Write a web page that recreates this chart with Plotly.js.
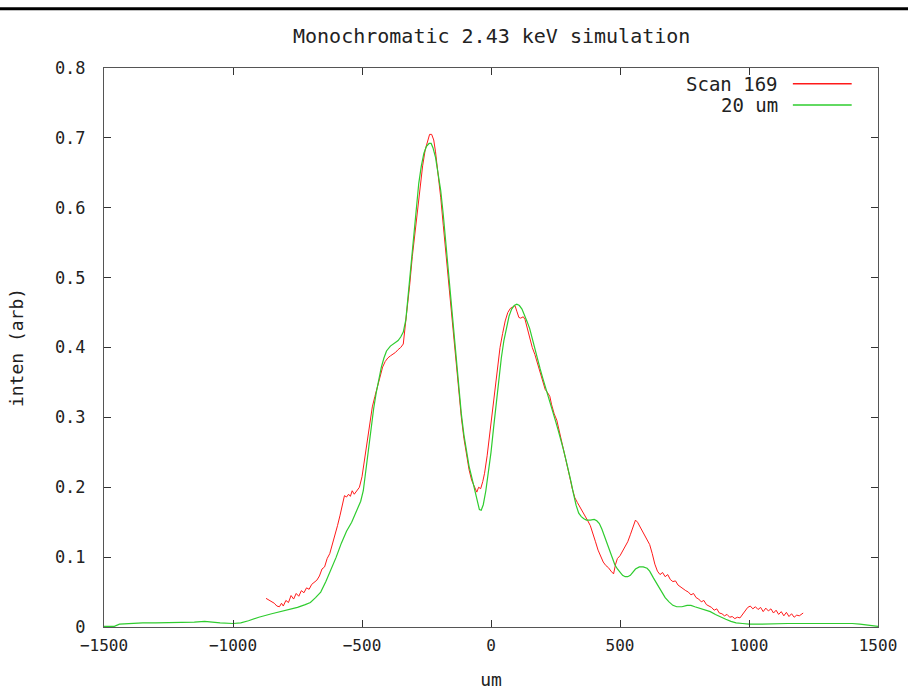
<!DOCTYPE html>
<html>
<head>
<meta charset="utf-8">
<script src="https://cdn.plot.ly/plotly-3.0.1.min.js"></script>
<style>html,body{margin:0;padding:0;background:#fff;}#chart{width:908px;height:690px;}</style>
</head>
<body>
<div id="chart"></div>
<script>
// Scan 169 (measured)
const scanX = [-872,-860,-850,-840,-830,-820,-812,-805,-795,-785,-775,-765,-755,-745,-735,-725,-715,-705,-695,-685,-675,-665,-655,-645,-635,-625,-615,-605,-595,-585,-575,-568,-560,-552,-545,-538,-530,-520,-510,-500,-490,-480,-470,-460,-450,-440,-430,-420,-410,-400,-390,-380,-370,-360,-350,-340,-332,-325,-315,-305,-295,-285,-275,-265,-255,-245,-238,-230,-222,-215,-205,-195,-185,-175,-165,-155,-145,-135,-125,-115,-105,-95,-85,-75,-65,-55,-48,-40,-32,-25,-15,-5,5,15,25,35,45,55,65,75,85,93,100,108,115,125,132,140,150,160,170,180,190,200,210,220,228,235,245,255,265,275,285,295,305,315,325,335,345,355,365,375,385,395,405,415,425,435,445,455,465,475,483,490,500,510,520,530,540,550,560,568,575,585,595,605,615,625,635,645,655,665,675,685,695,705,715,725,735,745,755,765,775,785,795,805,815,825,835,845,855,865,875,885,895,905,915,925,935,945,955,965,975,985,995,1005,1015,1025,1035,1045,1055,1065,1075,1085,1095,1105,1115,1125,1135,1145,1155,1165,1175,1185,1195,1210];
const scanY = [0.041,0.038,0.036,0.034,0.030,0.029,0.034,0.030,0.038,0.035,0.045,0.040,0.048,0.044,0.052,0.049,0.056,0.054,0.061,0.064,0.067,0.073,0.083,0.086,0.098,0.105,0.118,0.130,0.145,0.160,0.175,0.188,0.186,0.190,0.187,0.195,0.190,0.196,0.200,0.215,0.240,0.265,0.290,0.315,0.330,0.345,0.360,0.372,0.380,0.385,0.388,0.390,0.393,0.397,0.400,0.405,0.430,0.460,0.490,0.530,0.565,0.600,0.630,0.660,0.683,0.698,0.705,0.705,0.697,0.680,0.650,0.615,0.575,0.535,0.490,0.450,0.410,0.370,0.335,0.300,0.270,0.245,0.225,0.210,0.200,0.193,0.200,0.198,0.208,0.220,0.245,0.275,0.305,0.335,0.370,0.400,0.420,0.438,0.450,0.456,0.458,0.460,0.452,0.443,0.442,0.444,0.440,0.428,0.415,0.400,0.390,0.378,0.365,0.352,0.340,0.335,0.330,0.318,0.305,0.296,0.280,0.265,0.248,0.235,0.215,0.198,0.185,0.178,0.172,0.165,0.158,0.152,0.145,0.135,0.122,0.110,0.100,0.093,0.088,0.085,0.080,0.076,0.090,0.098,0.102,0.108,0.115,0.122,0.132,0.142,0.153,0.150,0.145,0.140,0.132,0.125,0.118,0.105,0.090,0.080,0.075,0.078,0.072,0.075,0.068,0.065,0.066,0.060,0.057,0.055,0.052,0.050,0.046,0.048,0.042,0.040,0.036,0.038,0.032,0.030,0.028,0.024,0.026,0.020,0.019,0.016,0.018,0.014,0.015,0.012,0.014,0.013,0.018,0.024,0.028,0.030,0.026,0.029,0.025,0.028,0.022,0.027,0.023,0.026,0.020,0.024,0.018,0.022,0.016,0.021,0.015,0.019,0.014,0.017,0.016,0.020];

// 20 um simulation
const simX = [-1500,-1460,-1440,-1400,-1350,-1300,-1250,-1200,-1150,-1110,-1090,-1050,-1000,-970,-940,-900,-850,-800,-750,-720,-700,-680,-660,-640,-620,-600,-580,-560,-540,-520,-505,-495,-485,-475,-465,-455,-445,-435,-425,-415,-405,-390,-375,-360,-350,-340,-330,-320,-310,-300,-290,-280,-270,-260,-250,-240,-232,-225,-215,-205,-195,-185,-175,-165,-155,-145,-135,-125,-115,-105,-95,-85,-75,-65,-55,-45,-38,-30,-20,-10,0,10,20,30,40,50,60,70,80,90,100,110,120,130,140,150,160,170,180,190,200,210,220,230,240,250,260,270,280,290,300,310,320,330,340,350,360,370,385,400,410,420,430,440,450,460,470,480,490,500,510,520,530,540,550,560,575,590,605,615,630,645,660,675,690,705,720,740,760,775,790,810,830,850,870,890,910,930,950,975,1000,1050,1100,1150,1200,1250,1300,1350,1400,1430,1470,1500];
const simY = [0.001,0.001,0.004,0.005,0.006,0.006,0.006,0.006,0.007,0.008,0.007,0.006,0.005,0.006,0.009,0.014,0.019,0.023,0.028,0.032,0.035,0.042,0.050,0.065,0.082,0.100,0.120,0.137,0.150,0.166,0.180,0.195,0.225,0.255,0.285,0.312,0.335,0.355,0.372,0.385,0.395,0.402,0.406,0.410,0.415,0.422,0.440,0.480,0.525,0.565,0.600,0.635,0.660,0.678,0.688,0.692,0.692,0.686,0.672,0.650,0.625,0.590,0.550,0.510,0.470,0.425,0.380,0.340,0.305,0.275,0.250,0.230,0.215,0.198,0.180,0.168,0.167,0.175,0.195,0.220,0.250,0.285,0.320,0.355,0.385,0.410,0.430,0.445,0.455,0.460,0.462,0.460,0.455,0.447,0.437,0.427,0.412,0.397,0.382,0.370,0.357,0.345,0.333,0.322,0.308,0.295,0.282,0.270,0.255,0.240,0.225,0.208,0.190,0.174,0.163,0.158,0.155,0.153,0.153,0.154,0.152,0.148,0.140,0.130,0.120,0.108,0.097,0.089,0.083,0.078,0.074,0.072,0.072,0.074,0.078,0.083,0.086,0.086,0.084,0.080,0.070,0.060,0.050,0.042,0.036,0.031,0.029,0.029,0.031,0.031,0.029,0.027,0.025,0.022,0.018,0.014,0.011,0.008,0.006,0.005,0.004,0.004,0.005,0.005,0.005,0.005,0.006,0.006,0.005,0.004,0.002,0.001];

const seriesNames = ['Scan 169', '20 um'];
const seriesColors = ['#ff1a1a', '#2ecc2e'];
const xTicks = [-1500,-1000,-500,0,500,1000,1500];
const yTicks = [0,0.1,0.2,0.3,0.4,0.5,0.6,0.7,0.8];

const traces = [
  {x: scanX, y: scanY, type: 'scatter', mode: 'lines', name: seriesNames[0],
   line: {color: seriesColors[0], width: 1}, showlegend: false},
  {x: simX, y: simY, type: 'scatter', mode: 'lines', name: seriesNames[1],
   line: {color: seriesColors[1], width: 1.2}, showlegend: false}
];

const mono = 'DejaVu Sans Mono';
const axisCommon = {
  showgrid: false, zeroline: false, showline: true, linecolor: '#555', linewidth: 1,
  mirror: 'ticks', ticks: 'inside', ticklen: 7, tickcolor: '#333', tickwidth: 1
};

// legend drawn gnuplot-style: right-aligned text, sample line to the right
const legendAnnots = [];
const legendShapes = [];
seriesNames.forEach((n, i) => {
  const yp = 0.972 - i * 0.038;
  legendAnnots.push({xref: 'paper', yref: 'paper', x: 0.873, y: yp, xanchor: 'right', yanchor: 'middle',
    text: n, showarrow: false, font: {family: mono, size: 19, color: '#222'}});
  legendShapes.push({type: 'line', xref: 'paper', yref: 'paper', x0: 0.890, x1: 0.966, y0: yp, y1: yp,
    line: {color: seriesColors[i], width: 1.5}});
});
// top black rule of the page
legendShapes.push({type: 'line', xref: 'paper', yref: 'paper', x0: -0.14, x1: 1.04, y0: 1.106, y1: 1.106,
  line: {color: '#000', width: 3}});

const layout = {
  width: 908, height: 690,
  margin: {l: 104, r: 30, t: 68, b: 63},
  paper_bgcolor: '#fff', plot_bgcolor: '#fff',
  title: {text: 'Monochromatic 2.43 keV simulation', x: 0.5415, xanchor: 'center', y: 0.948, yanchor: 'middle',
    font: {family: mono, size: 20, color: '#222'}},
  xaxis: Object.assign({}, axisCommon, {range: [-1500, 1500], tickvals: xTicks, ticklabelstandoff: 4,
    tickfont: {family: mono, size: 16, color: '#222'},
    title: {text: 'um', standoff: 22, font: {family: mono, size: 18, color: '#222'}}}),
  yaxis: Object.assign({}, axisCommon, {range: [0, 0.8], tickvals: yTicks, ticklabelstandoff: 14,
    tickfont: {family: mono, size: 17, color: '#222'},
    title: {text: 'inten (arb)', standoff: 26, font: {family: mono, size: 18, color: '#222'}}}),
  annotations: legendAnnots,
  shapes: legendShapes,
  showlegend: false
};

Plotly.newPlot('chart', traces, layout, {displayModeBar: false, staticPlot: true});
</script>
</body>
</html>
